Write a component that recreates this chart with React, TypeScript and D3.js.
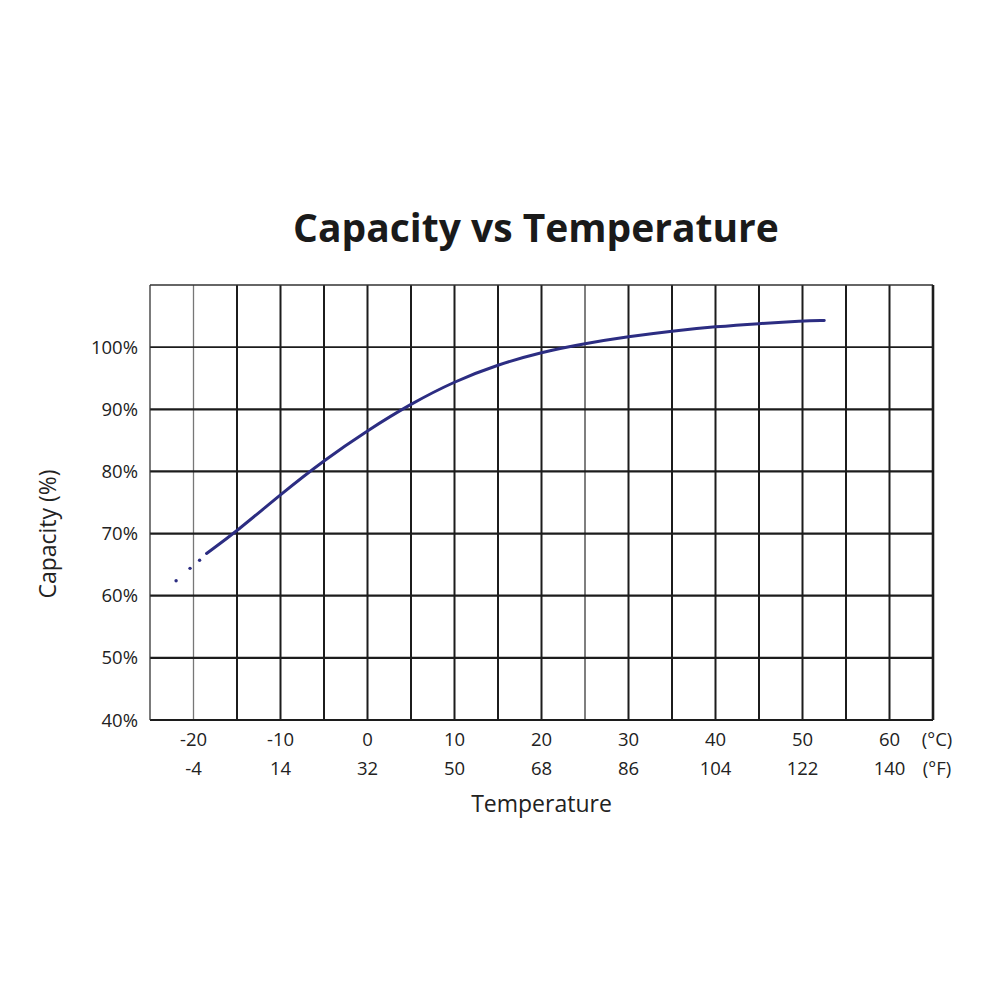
import React, { useEffect, useRef } from 'react'
import * as d3 from 'd3'

const title = 'Capacity vs Temperature'
const celsiusTicks = [-20, -10, 0, 10, 20, 30, 40, 50, 60]
const fahrenheitTicks = ['-4', '14', '32', '50', '68', '86', '104', '122', '140']
const capacityTicks = [40, 50, 60, 70, 80, 90, 100]

// curve: temperature (°C), capacity (%)
const curveTemp = [-18.5, -15, -10, -5, 0, 5, 10, 15, 20, 25, 30, 35, 40, 45, 50, 52.5]
const curveCap = [66.8, 70.4, 76.3, 81.8, 86.6, 90.9, 94.5, 97.2, 99.2, 100.6, 101.7, 102.6, 103.3, 103.8, 104.2, 104.3]
// faint dotted lead-in at the cold end
const leadTemp = [-22, -20.4, -19.3]
const leadCap = [62.4, 64.4, 65.7]

const font = '"Open Sans", "Noto Sans", sans-serif'

export default function App() {
    const svgRef = useRef<SVGSVGElement>(null)
    const width = 1000
    const height = 1000

    useEffect(() => {
        if (!svgRef.current) return
        const svg = d3.select(svgRef.current)
        svg.selectAll('*').remove()

        const x = d3.scaleLinear().domain([-25, 65]).range([150, 933])
        const y = d3.scaleLinear().domain([40, 110]).range([720, 285])

        svg.append('rect').attr('width', width).attr('height', height).attr('fill', '#fff')

        const grid = svg.append('g')
        // vertical grid every 5°C
        grid.selectAll('line.v')
            .data(d3.range(-20, 65, 5))
            .enter().append('line')
            .attr('x1', d => x(d)).attr('x2', d => x(d))
            .attr('y1', y(110)).attr('y2', y(40))
            .attr('stroke', d => d === -20 ? '#777' : d === 25 ? '#555' : '#1c1c1c')
            .attr('stroke-width', d => d === -20 ? 1.3 : d === 25 ? 1.5 : 2)

        grid.selectAll('line.h')
            .data(d3.range(50, 110, 10))
            .enter().append('line')
            .attr('x1', x(-25)).attr('x2', x(65))
            .attr('y1', d => y(d)).attr('y2', d => y(d))
            .attr('stroke', '#1c1c1c')
            .attr('stroke-width', d => d === 100 ? 1.6 : 2.2)

        // frame
        grid.append('line').attr('x1', x(-25)).attr('x2', x(65)).attr('y1', y(110)).attr('y2', y(110))
            .attr('stroke', '#333').attr('stroke-width', 1.3)
        grid.append('line').attr('x1', x(-25)).attr('x2', x(65)).attr('y1', y(40)).attr('y2', y(40))
            .attr('stroke', '#1c1c1c').attr('stroke-width', 2.2)
        grid.append('line').attr('x1', x(-25)).attr('x2', x(-25)).attr('y1', y(110)).attr('y2', y(40))
            .attr('stroke', '#333').attr('stroke-width', 1.3)
        grid.append('line').attr('x1', x(65)).attr('x2', x(65)).attr('y1', y(110)).attr('y2', y(40))
            .attr('stroke', '#1c1c1c').attr('stroke-width', 2.6)

        // curve
        const pts: [number, number][] = curveTemp.map((t, i) => [t, curveCap[i]])
        const line = d3.line<[number, number]>()
            .x(d => x(d[0]))
            .y(d => y(d[1]))
            .curve(d3.curveBasis)
        svg.append('path')
            .datum(pts)
            .attr('d', line)
            .attr('fill', 'none')
            .attr('stroke', '#2c2d82')
            .attr('stroke-width', 3)
            .attr('stroke-linecap', 'round')

        svg.selectAll('circle.lead')
            .data(leadTemp.map((t, i) => [t, leadCap[i]]))
            .enter().append('circle')
            .attr('cx', d => x(d[0]))
            .attr('cy', d => y(d[1]))
            .attr('r', 1.7)
            .attr('fill', '#2c2d82')

        const tickSize = '18.5px'

        // y tick labels
        svg.selectAll('text.yt')
            .data(capacityTicks)
            .enter().append('text')
            .attr('x', 138)
            .attr('y', d => y(d) + 6.5)
            .attr('text-anchor', 'end')
            .style('font-family', font)
            .style('font-size', tickSize)
            .style('fill', '#222')
            .text(d => `${d}%`)

        // x tick labels (°C and °F)
        svg.selectAll('text.xc')
            .data(celsiusTicks)
            .enter().append('text')
            .attr('x', d => x(d))
            .attr('y', 746)
            .attr('text-anchor', 'middle')
            .style('font-family', font)
            .style('font-size', tickSize)
            .style('fill', '#222')
            .text(d => `${d}`)
        svg.selectAll('text.xf')
            .data(celsiusTicks)
            .enter().append('text')
            .attr('x', d => x(d))
            .attr('y', 775)
            .attr('text-anchor', 'middle')
            .style('font-family', font)
            .style('font-size', tickSize)
            .style('fill', '#222')
            .text((d, i) => fahrenheitTicks[i])

        svg.append('text').attr('x', 937).attr('y', 746).attr('text-anchor', 'middle')
            .style('font-family', font).style('font-size', tickSize).style('fill', '#222').text('(°C)')
        svg.append('text').attr('x', 937).attr('y', 775).attr('text-anchor', 'middle')
            .style('font-family', font).style('font-size', tickSize).style('fill', '#222').text('(°F)')

        // axis titles
        svg.append('text')
            .attr('x', x(20))
            .attr('y', 812)
            .attr('text-anchor', 'middle')
            .style('font-family', font)
            .style('font-size', '23px')
            .style('fill', '#222')
            .text('Temperature')

        svg.append('text')
            .attr('transform', `translate(56,534) rotate(-90)`)
            .attr('text-anchor', 'middle')
            .style('font-family', font)
            .style('font-size', '23px')
            .style('fill', '#222')
            .text('Capacity (%)')

        svg.append('text')
            .attr('x', 536)
            .attr('y', 242)
            .attr('text-anchor', 'middle')
            .style('font-family', font)
            .style('font-size', '39px')
            .style('font-weight', 'bold')
            .style('fill', '#1a1a1a')
            .text(title)
    }, [])

    return (
        <svg
            ref={svgRef}
            width={width}
            height={height}
            style={{ position: 'absolute', left: 0, top: 0 }}
        />
    )
}
